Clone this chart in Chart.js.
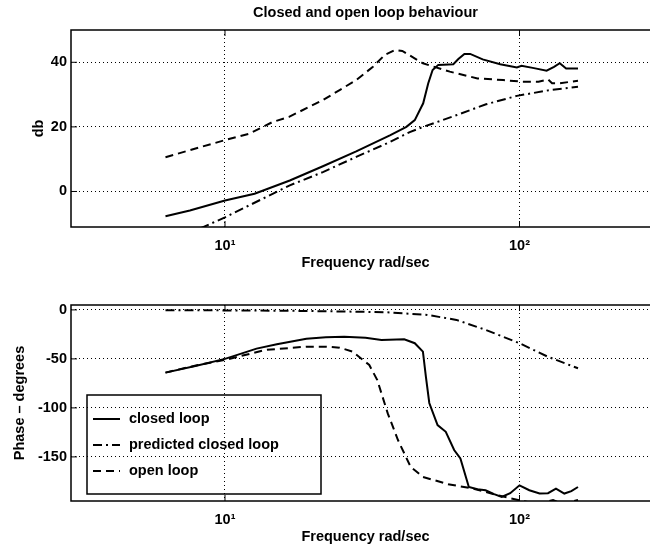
<!DOCTYPE html>
<html>
<head>
<meta charset="utf-8">
<script src="https://cdn.jsdelivr.net/npm/chart.js@4.4.1/dist/chart.umd.min.js"></script>
<style>
  html, body { margin: 0; padding: 0; background: #fff; overflow: hidden; }
  #wrap { position: relative; width: 650px; height: 548px; overflow: hidden; }
  canvas { position: absolute; left: 0; }
  #mag { top: 0; }
  #phase { top: 276px; }
</style>
</head>
<body>
<div id="wrap">
  <canvas id="mag" width="660" height="272"></canvas>
  <canvas id="phase" width="660" height="270"></canvas>
</div>
<script>
// axis ticks
const xTicks = [10, 100];
const xTickLabels = ['10¹', '10²'];
const magTicks = [0, 20, 40];
const phaseTicks = [-150, -100, -50, 0];

// magnitude, dB
const closedMagFreq = [6.28, 7.6, 10, 12.6, 16.6, 21.5, 27.9, 36.3, 41.3, 44.1, 47.1, 49, 50.7, 53, 59.6, 62, 65, 68, 75, 86, 98, 101.6, 112, 123.6, 131, 137, 144, 158];
const closedMagDb = [-7.7, -5.9, -2.8, -0.7, 3.4, 7.8, 12.4, 17.4, 20, 22.1, 27.3, 33.5, 37.6, 39.2, 39.4, 41, 42.6, 42.6, 40.9, 39.4, 38.4, 38.9, 38.2, 37.4, 38.6, 39.7, 38.1, 38.1];

const predictedMagFreq = [6.28, 8.5, 10, 16.6, 21.5, 27.9, 36.3, 42.4, 47.1, 61, 77, 98, 127, 158];
const predictedMagDb = [-16, -10.9, -8.0, 1.9, 6.0, 10.7, 15.3, 18.4, 20, 23.6, 27.0, 29.6, 31.4, 32.4];

const openMagFreq = [6.28, 7.6, 10, 12.1, 14.5, 16.5, 21.5, 24.5, 27.9, 31.8, 34.9, 37.8, 40, 47, 58, 72, 88, 102, 116, 125, 129, 137, 158];
const openMagDb = [10.6, 12.8, 15.9, 17.9, 21.5, 23.1, 28.3, 31.4, 34.5, 38.6, 42.3, 43.8, 43.5, 39.7, 37.1, 35.0, 34.5, 34.0, 34.0, 34.7, 33.5, 33.5, 34.3];

// phase, degrees
const closedPhaseFreq = [6.28, 8, 10, 12.8, 15, 18.9, 22, 25.4, 30, 34, 40.6, 44.1, 47, 48.1, 49.4, 52.7, 56.2, 60, 63, 67.3, 72, 76.7, 82, 87, 93, 100, 108, 117, 125, 133, 142, 150, 158];
const closedPhaseDeg = [-64, -57, -50, -39.5, -35, -29.5, -28, -27.3, -28.5, -30.7, -30, -34, -42.6, -68, -95, -117.6, -124.4, -143, -151.6, -180.7, -183, -184, -188, -190.9, -187, -179, -184, -187.4, -187, -182.3, -187.4, -185, -180.7];

const predictedPhaseFreq = [6.28, 10, 15, 20, 25, 35.2, 48.6, 61.1, 76.8, 100, 124.7, 158];
const predictedPhaseDeg = [-0.3, -0.5, -0.8, -1.2, -1.6, -2.4, -5.1, -10.2, -20.4, -34, -47.7, -59.6];

const openPhaseFreq = [6.28, 8.1, 10, 13.7, 18.9, 22, 24.5, 27.1, 30.9, 32.9, 35.7, 38.7, 42.7, 47, 57.2, 69.5, 84.5, 100, 115, 130, 140, 158];
const openPhaseDeg = [-64, -56.2, -51.1, -40.9, -37.5, -37.5, -38.5, -42.6, -56.2, -71.6, -105.6, -133, -160.2, -170.4, -177.9, -182.3, -189.2, -194.3, -198, -194, -198, -194];

const seriesNames = ['closed loop', 'predicted closed loop', 'open loop'];
const dashes = [[], [9, 4, 2, 4], [8, 5]];

const FONT = { family: "'Liberation Sans', Arial, sans-serif", size: 14.5, weight: 'bold' };
Chart.defaults.color = '#000';
Chart.defaults.font = FONT;

function points(freq, vals) {
  return freq.map((f, i) => ({ x: f, y: vals[i] }));
}

function makeSets(list) {
  return list.map((pts, i) => ({
    label: seriesNames[i],
    data: pts,
    borderColor: '#000',
    borderWidth: 2,
    borderDash: dashes[i],
    pointRadius: 0,
    tension: 0,
    fill: false,
    clip: 0
  }));
}

// MATLAB style box with inward ticks
const framePlugin = {
  id: 'frame',
  afterDatasetsDraw(chart) {
    const a = chart.chartArea;
    const ctx = chart.ctx;
    ctx.save();
    ctx.strokeStyle = '#000';
    ctx.lineWidth = 1.5;
    ctx.strokeRect(a.left, a.top, a.right - a.left, a.bottom - a.top);
    ctx.lineWidth = 1;
    ctx.beginPath();
    chart.scales.x.ticks.forEach(t => {
      const px = chart.scales.x.getPixelForValue(t.value);
      ctx.moveTo(px, a.bottom); ctx.lineTo(px, a.bottom - 6);
      ctx.moveTo(px, a.top); ctx.lineTo(px, a.top + 6);
    });
    chart.scales.y.ticks.forEach(t => {
      const py = chart.scales.y.getPixelForValue(t.value);
      ctx.moveTo(a.left, py); ctx.lineTo(a.left + 6, py);
    });
    ctx.stroke();
    ctx.restore();
  }
};

// legend drawn inside the lower axes, transparent like the original
const boxLegend = {
  id: 'boxLegend',
  afterDraw(chart) {
    const ctx = chart.ctx;
    const x0 = 87, y0 = 119, w = 234, h = 99;
    ctx.save();
    ctx.strokeStyle = '#000';
    ctx.lineWidth = 1.5;
    ctx.strokeRect(x0, y0, w, h);
    ctx.font = `bold ${FONT.size}px ${FONT.family}`;
    ctx.textBaseline = 'middle';
    ctx.fillStyle = '#000';
    chart.data.datasets.forEach((ds, i) => {
      const y = y0 + 24 + i * 26;
      ctx.beginPath();
      ctx.lineWidth = 2;
      ctx.setLineDash(ds.borderDash);
      ctx.moveTo(x0 + 6, y);
      ctx.lineTo(x0 + 33, y);
      ctx.stroke();
      ctx.setLineDash([]);
      ctx.fillText(ds.label, x0 + 42, y);
    });
    ctx.restore();
  }
};

function xScale() {
  return {
    type: 'logarithmic',
    min: 3,
    max: 300,
    afterBuildTicks: s => { s.ticks = xTicks.map(v => ({ value: v })); },
    afterFit: s => { s.height = 45; },
    ticks: {
      padding: 10,
      maxRotation: 0,
      callback: v => xTickLabels[xTicks.indexOf(v)]
    },
    grid: { color: '#000', lineWidth: 1, drawTicks: false },
    border: { display: false, dash: [1, 3] },
    title: { display: true, text: 'Frequency rad/sec', padding: { top: 0, bottom: 0 } }
  };
}

function yScale(min, max, ticks, label, titlePad) {
  return {
    min: min,
    max: max,
    afterBuildTicks: s => { s.ticks = ticks.map(v => ({ value: v })); },
    afterFit: s => { s.width = 71; },
    ticks: { padding: 4 },
    grid: { color: '#000', lineWidth: 1, drawTicks: false },
    border: { display: false, dash: [1, 3] },
    title: { display: true, text: label, padding: { top: titlePad, bottom: 0 } }
  };
}

new Chart(document.getElementById('mag'), {
  type: 'line',
  data: {
    datasets: makeSets([
      points(closedMagFreq, closedMagDb),
      points(predictedMagFreq, predictedMagDb),
      points(openMagFreq, openMagDb)
    ])
  },
  options: {
    responsive: false,
    animation: false,
    layout: { padding: 0 },
    plugins: {
      legend: { display: false },
      tooltip: { enabled: false },
      title: {
        display: true,
        text: 'Closed and open loop behaviour',
        fullSize: false,
        padding: { top: 4, bottom: 8.6 }
      }
    },
    scales: {
      x: xScale(),
      y: yScale(-11, 50, magTicks, 'db', 30)
    }
  },
  plugins: [framePlugin]
});

new Chart(document.getElementById('phase'), {
  type: 'line',
  data: {
    datasets: makeSets([
      points(closedPhaseFreq, closedPhaseDeg),
      points(predictedPhaseFreq, predictedPhaseDeg),
      points(openPhaseFreq, openPhaseDeg)
    ])
  },
  options: {
    responsive: false,
    animation: false,
    layout: { padding: { top: 29 } },
    plugins: {
      legend: { display: false },
      tooltip: { enabled: false }
    },
    scales: {
      x: xScale(),
      y: yScale(-195, 5, phaseTicks, 'Phase – degrees', 11)
    }
  },
  plugins: [framePlugin, boxLegend]
});
</script>
</body>
</html>
